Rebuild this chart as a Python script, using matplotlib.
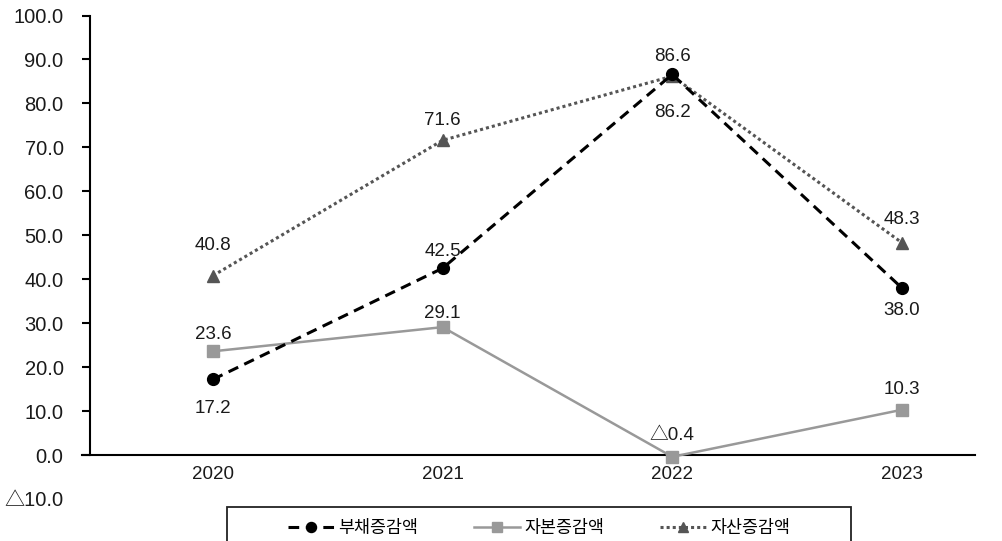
import matplotlib
matplotlib.use('Agg')
import matplotlib.pyplot as plt
from matplotlib.patches import Rectangle

plt.rcParams['font.family'] = ['Liberation Sans', 'Noto Sans CJK KR', 'DejaVu Sans']

years = ['2020', '2021', '2022', '2023']
debt = [17.2, 42.5, 86.6, 38.0]
capital = [23.6, 29.1, -0.4, 10.3]
assets = [40.8, 71.6, 86.2, 48.3]

# label offsets in points (negative = below the marker)
debt_off = [-21, 12, 13, -16]
capital_off = [12, 10, 15, 14.5]
assets_off = [22, 14.5, -26, 16.5]


def fmt(v):
    if v < 0:
        return '△' + f'{-v:.1f}'
    return f'{v:.1f}'


def annotate(ax, xs, vals, offs):
    for x, v, dy in zip(xs, vals, offs):
        ax.annotate(fmt(v), (x, v), xytext=(0, dy), textcoords='offset points',
                    ha='center', va='center', fontsize=13.5, color='#1a1a1a')


fig = plt.figure(figsize=(10.03, 5.41), dpi=100)
ax = fig.add_axes([90 / 1003, 42 / 541, 885 / 1003, 483.5 / 541])

# spine moves first, it resets the ticks
ax.spines['bottom'].set_position(('data', 0))
ax.spines['bottom'].set_visible(False)
ax.spines['top'].set_visible(False)
ax.spines['right'].set_visible(False)

xs = list(range(len(years)))

l1, = ax.plot(xs, debt, color='black', linestyle=(0, (3.5, 2.2)), linewidth=2.2,
              marker='o', markersize=8.5, label='부채증감액', zorder=4)
l2, = ax.plot(xs, capital, color='#999999', linestyle='-', linewidth=1.8,
              marker='s', markersize=8, label='자본증감액', zorder=3)
l3, = ax.plot(xs, assets, color='#555555', linestyle=(0, (1, 1)), linewidth=2.2,
              marker='^', markersize=9, label='자산증감액', zorder=3)

annotate(ax, xs, debt, debt_off)
annotate(ax, xs, capital, capital_off)
annotate(ax, xs, assets, assets_off)

ax.set_xlim(-0.535, 3.318)
ax.set_ylim(-10, 100)
ax.set_xticks(xs)
ax.set_xticklabels(years)
yt = list(range(-10, 101, 10))
ax.set_yticks(yt)
ax.set_yticklabels([fmt(v) for v in yt])
ax.yaxis.get_major_ticks()[0].tick1line.set_visible(False)

ax.spines['left'].set_bounds(0, 100)
ax.spines['left'].set_linewidth(1.5)
ax.axhline(0, xmin=-8 / 885, xmax=1, color='black', linewidth=1.5, clip_on=False)
ax.tick_params(axis='y', length=6, width=1.5, pad=13, labelsize=14.5, labelcolor='#1a1a1a')
ax.tick_params(axis='x', length=0, pad=8, labelsize=13.5, labelcolor='#1a1a1a')

fig.legend(handles=[l1, l2, l3], loc='center', ncol=3,
           bbox_to_anchor=(539 / 1003, 1 - 528 / 541),
           frameon=False, fontsize=12.5, handlelength=2.65, markerscale=0.85,
           handletextpad=0.25, columnspacing=3.2, borderaxespad=0)
fig.patches.append(Rectangle((227 / 1003, -0.05), 624 / 1003, 0.05 + (541 - 507) / 541,
                             transform=fig.transFigure, fill=False,
                             edgecolor='#222222', linewidth=1.3))

fig.savefig('out.png', dpi=100)
